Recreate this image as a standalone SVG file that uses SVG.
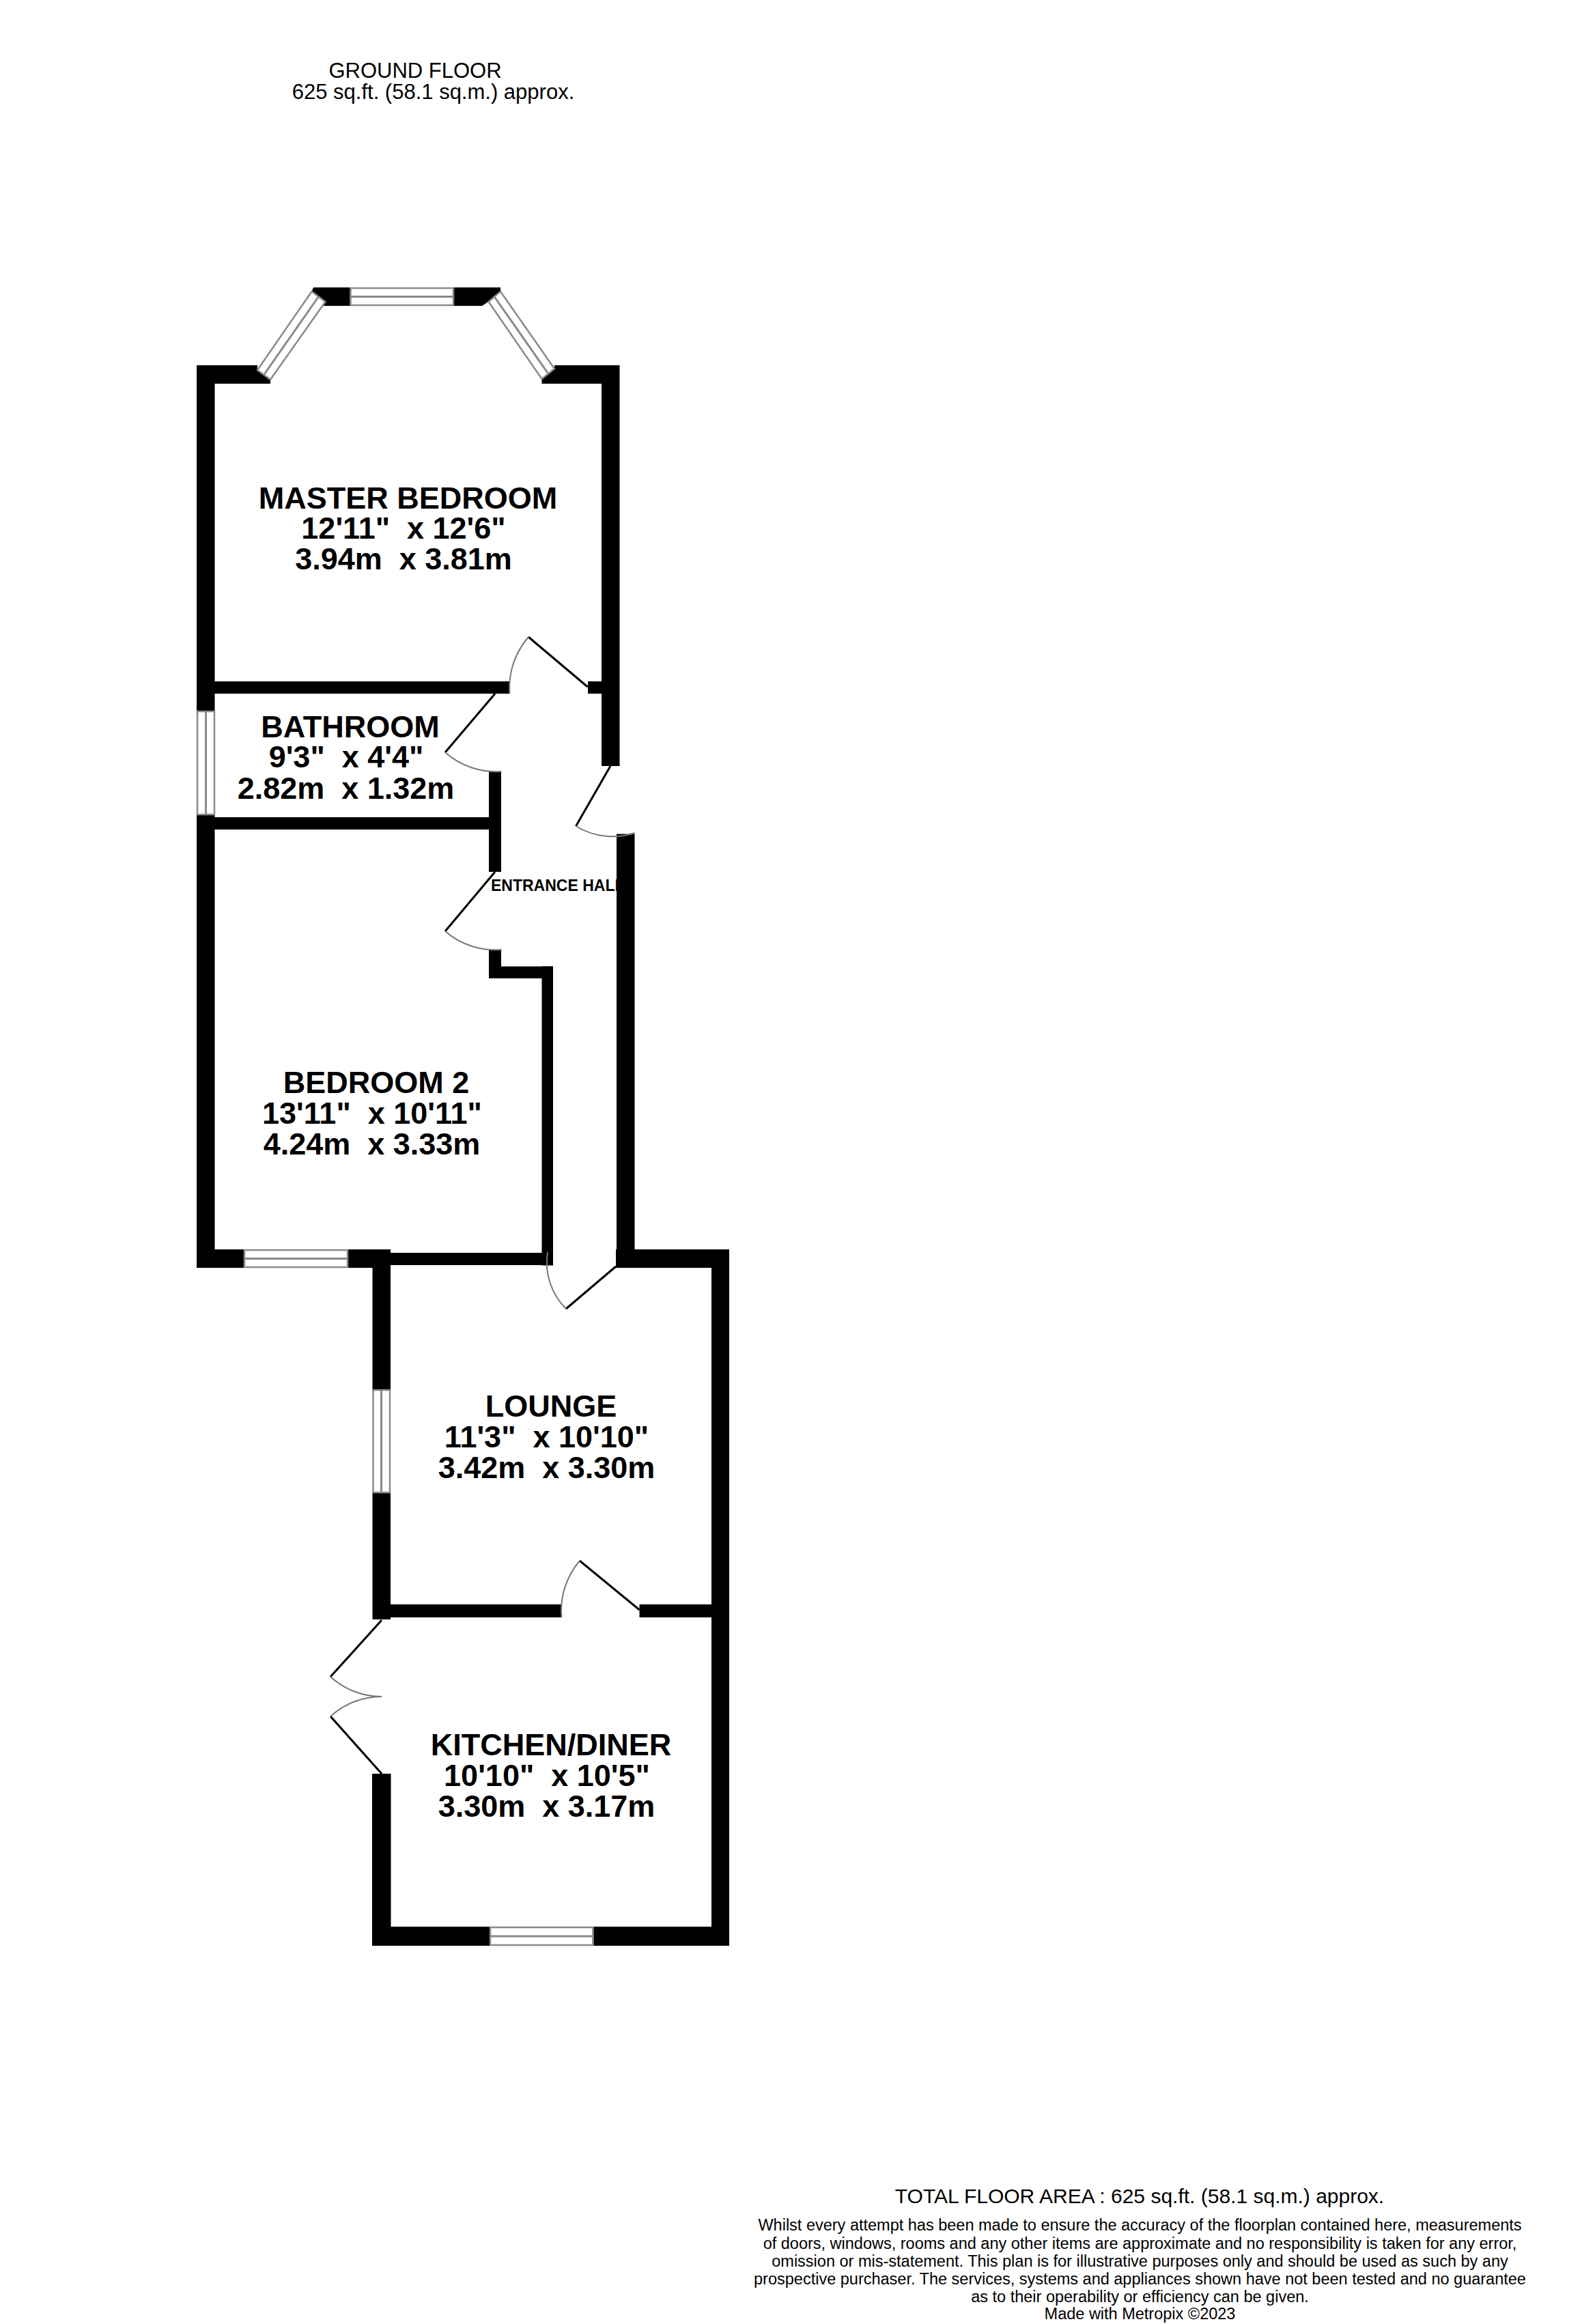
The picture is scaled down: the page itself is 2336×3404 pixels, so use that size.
<svg xmlns="http://www.w3.org/2000/svg" width="2336" height="3404" viewBox="0 0 2336 3404">
<style>
text{font-family:"Liberation Sans",Arial,sans-serif;fill:#000;text-anchor:middle;white-space:pre}
.r{font-size:45px;font-weight:700}
.h{font-size:31px}
.t{font-size:30px}
.s{font-size:23.500px}
.w{fill:#000}
.g{fill:#fff;stroke:#8a8a8a;stroke-width:2.500}
.m{stroke:#8a8a8a;stroke-width:3;fill:none}
.l{stroke:#000;stroke-width:3;fill:none}
.a{stroke:#777;stroke-width:2;fill:none}
</style>
<rect width="2336" height="3404" fill="#fff"/>
<g id="labels-top"><text class="h" x="608" y="114">GROUND FLOOR</text><text class="h" x="634.500" y="145">625 sq.ft. (58.1 sq.m.) approx.</text></g>
<g id="hall-label"><text x="719" y="1305" style="font-size:23px;font-weight:700;text-anchor:start">ENTRANCE HALL</text></g>
<g id="walls" class="w">
<path d="M459 421H733V427L715 442L706 448H467L476.500 442L456.500 427Z"/>
<path d="M288 535H377V542L396 556V562H288Z"/>
<path d="M812 535H907.500V1122H881V562H793.500V555L812 540Z"/>
<rect x="288" y="535" width="26.500" height="507"/>
<rect x="288" y="1193" width="26.500" height="664"/>
<rect x="314" y="998" width="433" height="18"/>
<rect x="861" y="998" width="21" height="18"/>
<rect x="716" y="1130" width="18" height="147"/>
<rect x="314" y="1197" width="420" height="18"/>
<rect x="716" y="1391" width="18" height="42"/>
<rect x="716" y="1415.500" width="94" height="17.500"/>
<rect x="793.500" y="1415.500" width="16.500" height="438"/>
<rect x="572" y="1835" width="238" height="18"/>
<rect x="288" y="1830" width="70" height="27"/>
<rect x="509" y="1830" width="63" height="27"/>
<rect x="903" y="1221.500" width="26.500" height="635.500"/>
<rect x="902" y="1830" width="166" height="27"/>
<rect x="1042" y="1830" width="26" height="1020"/>
<rect x="545.500" y="1830" width="26.500" height="206"/>
<rect x="545.500" y="2186" width="26.500" height="186"/>
<rect x="572" y="2350" width="250.500" height="19"/>
<rect x="936.500" y="2350" width="106" height="19"/>
<rect x="545" y="2598" width="27.500" height="252"/>
<rect x="545" y="2822" width="173" height="28"/>
<rect x="868.500" y="2822" width="199.500" height="28"/>
</g>
<g id="windows">
<g><rect class="g" x="513.500" y="422" width="150.500" height="25"/><path class="m" d="M513.500 434.500H664"/></g>
<g><path class="g" d="M456.500 427L476.500 442L396 556L377 542Z"/><path class="m" d="M466.500 434.500L386.500 549"/></g>
<g><path class="g" d="M733 427L812 540L793.500 555L715.500 442Z"/><path class="m" d="M724 434.500L803 547.500"/></g>
<g><rect class="g" x="289" y="1042" width="25" height="151"/><path class="m" d="M301.500 1042V1193"/></g>
<g><rect class="g" x="358" y="1831" width="151" height="25"/><path class="m" d="M358 1843.500H509"/></g>
<g><rect class="g" x="546.500" y="2036" width="24.500" height="150"/><path class="m" d="M558.500 2036V2186"/></g>
<g><rect class="g" x="718" y="2823" width="150.500" height="26"/><path class="m" d="M718 2836H868.500"/></g>
</g>
<g id="doors">
<path class="l" d="M860.500 1006L774 933"/><path class="a" d="M774 933A113 113 0 0 0 746.500 1016"/>
<path class="l" d="M725 1016L652 1102"/><path class="a" d="M652 1102A113 113 0 0 0 734.500 1130"/>
<path class="l" d="M894 1122L843.500 1210"/><path class="a" d="M843.500 1210A102 102 0 0 0 929.500 1220"/>
<path class="l" d="M725 1277L652 1364"/><path class="a" d="M652 1364A113 113 0 0 0 734.500 1391"/>
<path class="l" d="M902 1855L829 1917"/><path class="a" d="M802 1834A96 96 0 0 0 829 1917"/>
<path class="l" d="M936.500 2358L849 2286"/><path class="a" d="M849 2286A113 113 0 0 0 822.500 2369"/>
<path class="l" d="M559 2373L484 2456"/><path class="a" d="M484 2456A112 112 0 0 0 559 2485"/>
<path class="l" d="M559 2598L484 2514"/><path class="a" d="M559 2485A112 112 0 0 0 484 2514"/>
</g>
<g id="master-bedroom"><text class="r" x="597.500" y="745">MASTER BEDROOM</text><text class="r" x="591" y="789">12'11"  x 12'6"</text><text class="r" x="591" y="834">3.94m  x 3.81m</text></g>
<g id="bathroom"><text class="r" x="513" y="1080">BATHROOM</text><text class="r" x="507" y="1124">9'3"  x 4'4"</text><text class="r" x="506.500" y="1170">2.82m  x 1.32m</text></g>
<g id="bedroom-2"><text class="r" x="551" y="1601">BEDROOM 2</text><text class="r" x="545" y="1646">13'11"  x 10'11"</text><text class="r" x="544.500" y="1691">4.24m  x 3.33m</text></g>
<g id="lounge"><text class="r" x="807" y="2075">LOUNGE</text><text class="r" x="800.500" y="2120">11'3"  x 10'10"</text><text class="r" x="800.500" y="2165">3.42m  x 3.30m</text></g>
<g id="kitchen-diner"><text class="r" x="807" y="2571">KITCHEN/DINER</text><text class="r" x="801" y="2616">10'10"  x 10'5"</text><text class="r" x="800.500" y="2661">3.30m  x 3.17m</text></g>
<g id="footer">
<text class="t" x="1669" y="3227">TOTAL FLOOR AREA : 625 sq.ft. (58.1 sq.m.) approx.</text>
<text class="s" x="1669.500" y="3267">Whilst every attempt has been made to ensure the accuracy of the floorplan contained here, measurements</text>
<text class="s" x="1669.500" y="3294">of doors, windows, rooms and any other items are approximate and no responsibility is taken for any error,</text>
<text class="s" x="1669.500" y="3320">omission or mis-statement. This plan is for illustrative purposes only and should be used as such by any</text>
<text class="s" x="1669.500" y="3346">prospective purchaser. The services, systems and appliances shown have not been tested and no guarantee</text>
<text class="s" x="1669.500" y="3372">as to their operability or efficiency can be given.</text>
<text class="s" x="1669.500" y="3397">Made with Metropix ©2023</text>
</g>
</svg>
